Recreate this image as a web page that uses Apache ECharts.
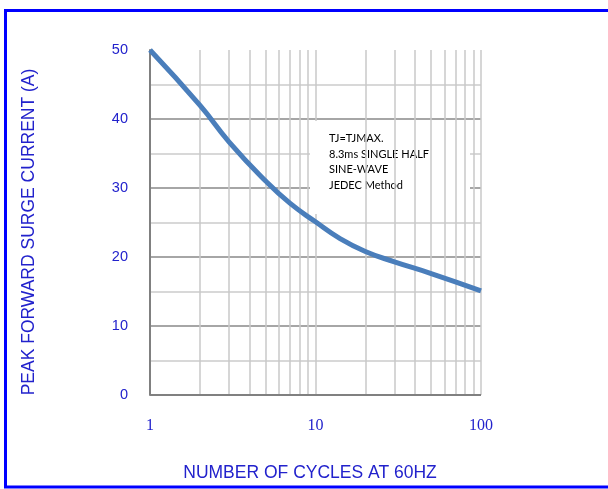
<!DOCTYPE html>
<html><head><meta charset="utf-8">
<script src="https://cdn.jsdelivr.net/npm/echarts@6/dist/echarts.min.js"></script>
<style>html,body{margin:0;padding:0;background:#fff}#c{width:608px;height:489px}</style>
</head><body><div id="c"></div>
<script>
const cycles = [1, 2, 3, 5, 7, 10, 14, 20, 30, 50, 100];
const current = [50, 42.0, 36.7, 31.0, 27.8, 25.1, 22.7, 20.8, 19.3, 17.6, 15.1];
const minorX = [2, 3, 4, 5, 6, 7, 8, 9, 20, 30, 40, 50, 60, 70, 80, 90];
const xTicks = ['1', '10', '100'];
const yTitle = 'PEAK FORWARD SURGE CURRENT (A)';
const xTitle = 'NUMBER OF CYCLES AT 60HZ';
const noteLines = ['TJ=TJMAX.', '8.3ms SINGLE HALF', 'SINE-WAVE', 'JEDEC Method'];

const blue = '#2222cc';
const chart = echarts.init(document.getElementById('c'));
chart.setOption({
  animation: false,
  backgroundColor: '#fff',
  grid: { left: 150, right: 127, top: 50, bottom: 94 },
  xAxis: {
    type: 'log', logBase: 10, min: 1, max: 100,
    axisLine: { show: false },
    axisTick: { show: false },
    axisLabel: { color: blue, fontFamily: 'Liberation Serif', fontSize: 16, margin: 23,
      formatter: v => xTicks.includes(String(Math.round(v))) ? String(Math.round(v)) : '' },
    splitLine: { show: true, lineStyle: { color: '#c8c8c8', width: 1.5 } }
  },
  yAxis: {
    type: 'value', min: 0, max: 50, interval: 10,
    axisLine: { show: true, lineStyle: { color: '#808080', width: 2 } },
    axisTick: { show: false },
    axisLabel: { color: blue, fontFamily: 'Liberation Sans', fontSize: 14.5, margin: 22 },
    splitLine: { show: true, showMaxLine: false, lineStyle: { color: '#a6a6a6', width: 2 } },
    minorTick: { show: false, splitNumber: 2 },
    minorSplitLine: { show: true, lineStyle: { color: '#cccccc', width: 1.5 } }
  },
  series: [
    {
      type: 'line', data: [], z: 0, silent: true,
      markLine: {
        silent: true, symbol: 'none', label: { show: false },
        lineStyle: { color: '#c8c8c8', width: 1.5, type: 'solid' },
        data: minorX.map(v => ({ xAxis: v }))
      }
    },
    {
      type: 'line', data: [], z: 0, silent: true,
      markLine: {
        silent: true, symbol: 'none', label: { show: false },
        lineStyle: { color: '#808080', width: 2, type: 'solid' },
        data: [{ yAxis: 0 }]
      }
    },
    {
      type: 'line', z: 5,
      data: cycles.map((c, i) => [c, current[i]]),
      smooth: 0.5, showSymbol: false,
      lineStyle: { color: '#4a7ebb', width: 5 }
    }
  ],
  graphic: [
    { type: 'rect', z: 3, shape: { x: 310, y: 121, width: 160, height: 93 }, style: { fill: '#fff' } },
    { type: 'text', z: 4, left: 329, top: 131,
      style: { text: noteLines.join('\n'), font: '11px Lato', lineHeight: 15.5, fill: '#000' } },
    { type: 'text', z: 4, x: 29, y: 232, rotation: Math.PI / 2,
      style: { text: yTitle, font: '17.5px "Liberation Sans"', fill: blue, align: 'center', verticalAlign: 'middle' } },
    { type: 'text', z: 4, x: 310, y: 473,
      style: { text: xTitle, font: '17.5px "Liberation Sans"', fill: blue, align: 'center', verticalAlign: 'middle' } },
    { type: 'rect', z: 10, shape: { x: 5.5, y: 10.5, width: 620, height: 476.5 },
      style: { fill: 'none', stroke: '#0000ff', lineWidth: 3 } }
  ]
});
</script></body></html>
